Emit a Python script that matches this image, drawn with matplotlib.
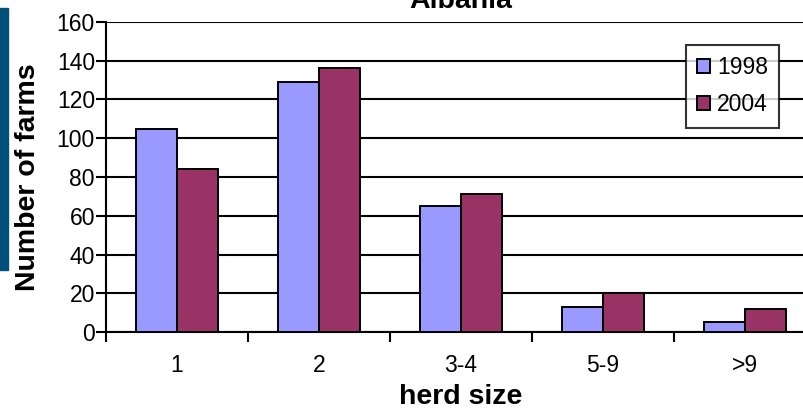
import matplotlib.pyplot as plt
import numpy as np
from matplotlib.patches import Rectangle

plt.rcParams['font.family'] = ['Liberation Sans', 'DejaVu Sans']

# Farms per herd size class
herd_sizes = ['1', '2', '3-4', '5-9', '>9']
farms_1998 = [105, 129, 65, 13, 5]
farms_2004 = [84, 136, 71, 20, 12]

fig = plt.figure(figsize=(8.04, 4.09), dpi=100)
W, H = 804, 409
ax = fig.add_axes([106 / W, 77 / H, 710 / W, 310 / H])

x = np.arange(len(herd_sizes))
w = 0.29
ax.bar(x - w / 2, farms_1998, w, color='#9999FF', edgecolor='black', linewidth=1.4, label='1998', zorder=3)
ax.bar(x + w / 2, farms_2004, w, color='#993366', edgecolor='black', linewidth=1.4, label='2004', zorder=3)

ax.set_xlim(-0.5, len(herd_sizes) - 0.5)
ax.set_ylim(0, 160)
ax.set_yticks(range(0, 161, 20))
ax.yaxis.grid(True, color='black', linewidth=1.5, zorder=0)
ax.set_xticks(x)
ax.set_xticklabels(herd_sizes)
ax.set_xticks(np.arange(-0.5, len(herd_sizes)), minor=True)
ax.tick_params(axis='x', which='major', length=0, pad=16, labelsize=16.5)
ax.tick_params(axis='x', which='minor', length=7, width=1.5, direction='out')
ax.tick_params(axis='y', length=7, width=1.5, labelsize=16.5, pad=1)
for s in ['top', 'right']:
    ax.spines[s].set_visible(False)
ax.spines['left'].set_linewidth(1.5)
ax.spines['bottom'].set_linewidth(1.5)

ax.set_xlabel('herd size', fontsize=20.5, fontweight='bold', labelpad=5)
ax.set_ylabel('Number of farms', fontsize=20.5, fontweight='bold', labelpad=11)
fig.text(461 / W, 1 - 8 / H, 'Albania', fontsize=20.5, fontweight='bold',
         ha='center', va='baseline')

leg = ax.legend(loc='upper left', bbox_to_anchor=((686 - 106) / 710, (332 - 45) / 310),
                fontsize=16.5, frameon=True, fancybox=False, edgecolor='black',
                handlelength=0.55, handleheight=0.55, handletextpad=0.3,
                labelspacing=0.6, borderpad=0.5, borderaxespad=0)
leg.get_frame().set_linewidth(1.5)

# page edge strip on the left
fig.patches.append(Rectangle((0, (409 - 270) / H), 8 / W, 262 / H,
                             transform=fig.transFigure, color='#00507A'))

fig.savefig('out.png', dpi=100)
